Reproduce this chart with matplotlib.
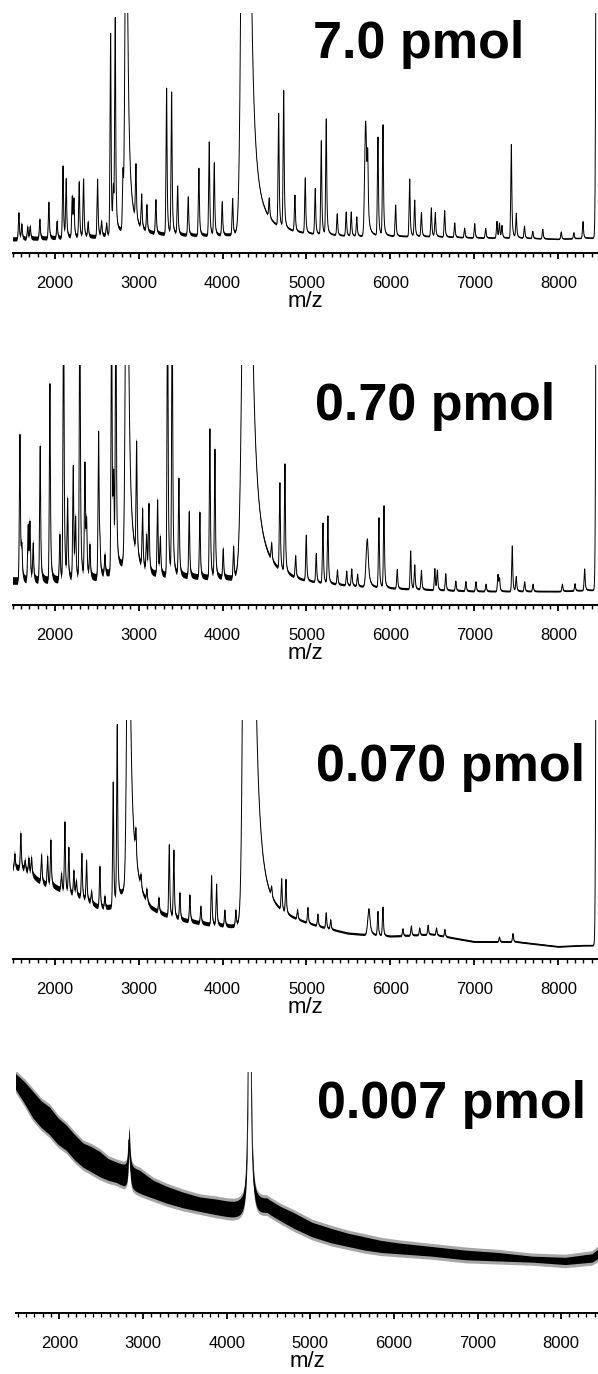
import numpy as np
import matplotlib
matplotlib.use("Agg")
import matplotlib.pyplot as plt
from matplotlib.ticker import MultipleLocator

plt.rcParams['font.family'] = ['Liberation Sans', 'DejaVu Sans']

# ------------------------------------------------------------------
# Spectrum data (intensity in % of the displayed full scale)
# ------------------------------------------------------------------
labels = ["7.0 pmol", "0.70 pmol", "0.070 pmol", "0.007 pmol"]

# ---- 7.0 pmol ----
p1_peak_mz = [1575, 1610, 1680, 1710, 1825, 1932, 2030, 2100, 2138, 2210, 2230, 2293,
              2345, 2400, 2512, 2560, 2620, 2667, 2700, 2722, 2814, 2969, 3037, 3100,
              3207, 3334, 3394, 3466, 3592, 3719, 3842, 3902, 3997, 4121, 4557, 4669,
              4729, 4863, 4986, 5105, 5177, 5236, 5367, 5474, 5534, 5600, 5730, 5852,
              5912, 6063, 6230, 6290, 6370, 6488, 6535, 6647, 6767, 6885, 7005, 7136,
              7270, 7300, 7330, 7441, 7500, 7598, 7697, 7816, 8036, 8186, 8295]
p1_peak_h = [11, 6, 5, 5, 8, 15, 7, 30, 24, 17, 15, 23,
             24, 6, 24, 6, 5, 84, 18, 88, 22, 23, 14, 11,
             14, 61, 59, 20, 16, 28, 39, 30, 14, 15, 8, 47,
             57, 15, 23, 19, 39, 48, 9, 10, 10, 8, 25, 41,
             46, 13, 24, 15, 10, 12, 10, 11, 6, 4, 6, 4,
             7, 6, 5, 39, 10, 5, 3, 4, 3, 2.5, 7]
p1_wide_mz = [2852, 4280, 5705, 8470]
p1_wide_h = [150, 600, 48, 740]
p1_wide_wl = [14, 34, 12, 12]
p1_wide_wr = [23, 30, 14, 20]
p1_base_mz = [1450, 2000, 2500, 2700, 2800, 2950, 3100, 3500, 4000, 4150, 4500, 4700,
              5000, 5500, 6000, 6500, 7000, 7500, 8000, 8350, 8520]
p1_base_h = [5.5, 6, 6.5, 7.5, 9, 8.5, 7.5, 7, 7, 7.5, 8, 7.5,
             7, 6.5, 6.5, 6.5, 6, 6, 5.5, 6, 6]
p1_noise_mz = [1450, 3000, 4200, 5000, 8520]
p1_noise = [0.9, 0.8, 0.6, 0.4, 0.3]

# ---- 0.70 pmol ----
p2_peak_mz = [1587, 1610, 1685, 1706, 1745, 1828, 1944, 2063, 2107, 2155, 2222, 2250,
              2301, 2361, 2381, 2421, 2524, 2540, 2600, 2679, 2703, 2730, 2977, 3048,
              3096, 3124, 3227, 3260, 3346, 3401, 3481, 3604, 3731, 3850, 3910, 4009,
              4133, 4586, 4684, 4744, 4872, 4998, 5117, 5197, 5256, 5370, 5480, 5540,
              5610, 5864, 5924, 6082, 6242, 6290, 6370, 6530, 6560, 6660, 6780, 6900,
              7020, 7140, 7282, 7300, 7452, 7500, 7600, 7700, 8050, 8200, 8315]
p2_peak_h = [61, 12, 23, 23, 15, 56, 82, 19, 130, 32, 47, 24,
             125, 47, 21, 13, 60, 10, 8, 120, 35, 120, 47, 24,
             15, 28, 31, 15, 130, 120, 40, 27, 27, 62, 53, 12,
             13, 7, 36, 45, 9, 19, 12, 25, 28, 6, 6, 7,
             5, 29, 34, 8, 16, 10, 8, 9, 8, 7, 4, 4,
             4, 3, 7, 5, 19, 6, 4, 3, 3, 3, 9]
p2_wide_mz = [2860, 4290, 5725, 8470]
p2_wide_h = [180, 300, 20, 740]
p2_wide_wl = [16, 40, 15, 12]
p2_wide_wr = [23, 50, 15, 20]
p2_base_mz = [1450, 2000, 2500, 2650, 2800, 2950, 3100, 3500, 4000, 4150, 4500, 4700,
              5000, 5500, 6000, 6500, 7000, 7500, 8000, 8350, 8520]
p2_base_h = [10, 10, 11, 13, 16, 15, 12, 11.5, 11, 11, 11, 10,
             8.5, 7.5, 6.5, 6, 5.5, 5.5, 5.5, 6, 6]
p2_noise_mz = [1450, 2500, 4200, 5000, 8520]
p2_noise = [1.6, 1.5, 1.1, 0.5, 0.35]

# ---- 0.070 pmol ----
p3_peak_mz = [1527, 1598, 1650, 1694, 1726, 1845, 1917, 1956, 2083, 2123, 2170, 2230,
              2260, 2325, 2381, 2441, 2540, 2600, 2698, 2746, 2969, 3030, 3100, 3243,
              3366, 3421, 3493, 3612, 3743, 3870, 3930, 4029, 4160, 4586, 4705, 4756,
              4895, 5018, 5137, 5236, 5290, 5852, 5912, 6150, 6250, 6350, 6450, 6550,
              6650, 7300, 7461]
p3_peak_h = [6, 14.5, 4, 6, 7, 11.5, 12, 19, 7, 29, 18.7, 10,
             6, 18.5, 16.5, 5, 17, 5, 52, 73, 12, 5, 5, 6,
             30, 28, 11, 11, 7, 20.5, 17, 6.5, 6.5, 4, 13, 14,
             4, 6.5, 5, 6.5, 4, 10, 12, 3, 4, 3, 4, 3,
             3, 2, 3.5]
p3_wide_mz = [2878, 4310, 5745, 8470]
p3_wide_h = [150, 1000, 11, 740]
p3_wide_wl = [17.5, 34, 15, 12]
p3_wide_wr = [27, 29.5, 15, 20]
p3_base_mz = [1450, 1600, 1700, 1800, 1900, 2000, 2100, 2200, 2300, 2400, 2500, 2600,
              2700, 2800, 2850, 2950, 3000, 3050, 3150, 3300, 3500, 3700, 3900, 4100,
              4200, 4500, 4700, 4900, 5200, 5500, 6000, 6500, 7000, 7500, 8000, 8300, 8520]
p3_base_h = [38, 38, 36, 33, 31, 30, 28.5, 27, 26, 24, 22, 21,
             22, 27, 30, 32, 28, 24, 20, 18, 16, 15, 14, 13.5,
             14, 15, 15, 14, 12, 10, 9, 10, 7, 7, 5, 5.5, 5.5]
p3_noise_mz = [1450, 3000, 4200, 5000, 8520]
p3_noise = [1.3, 1.0, 0.8, 0.5, 0.35]

# ---- 0.007 pmol (noise band: upper / lower envelope) ----
p4_band_mz = [1470, 1580, 1680, 1780, 1880, 1980, 2080, 2180, 2280, 2380, 2480, 2580,
              2680, 2780, 2960, 3120, 3280, 3480, 3680, 3880, 4080, 4200, 4480, 4640,
              4800, 5020, 5250, 5450, 5650, 5850, 6050, 6450, 6850, 7250, 7650, 8050,
              8370, 8460]
p4_band_hi = [99.5, 96, 92, 88, 85.5, 81, 78, 74, 70.5, 69, 67, 64,
              62.5, 61, 59, 55, 52.5, 50, 48, 47, 45.5, 45, 47, 44,
              41.5, 37.5, 35, 33, 31.5, 30, 29, 27.5, 26, 25, 23.5, 23,
              24.5, 27]
p4_band_lo = [93, 87, 81, 77, 74, 70, 67.5, 63.5, 60.5, 58.5, 56.5, 55,
              54, 52, 49.5, 47.5, 45.5, 43.5, 42, 40.5, 39, 38.5, 41, 38,
              35, 31.5, 29, 27.5, 26, 25, 24.5, 23.5, 22, 21.5, 21, 20,
              21, 23]
p4_peak_mz = [2832, 4275]
p4_peak_h = [16, 200]
p4_peak_w = [12, 12.2]

# axes frames in pixels: (left, right, top, axis line) and m/z range
frames = [(12.7, 598, 13, 252.7),
          (12.7, 598, 365, 605),
          (12.7, 598, 720, 959),
          (16.0, 598, 1072, 1312.7)]
xranges = [(1500, 8473), (1500, 8473), (1500, 8473), (1480, 8441)]
label_xy = [(313, 58), (315, 420), (316, 781), (317, 1118)]

W, H = 598, 1374
DPI = 100
mz = np.arange(1440.0, 8530.0, 1.0)


def peak(x, c, h, wl, wr):
    d = x - c
    left = h * np.exp(-0.5 * (d / wl) ** 2)
    right = h / (1.0 + (d / wr) ** 2)
    return np.where(d < 0, left, right)


def build(peak_mz, peak_h, wide_mz, wide_h, wide_wl, wide_wr, base_mz, base_h):
    y = np.interp(mz, base_mz, base_h)
    for c, h in zip(peak_mz, peak_h):
        y = y + peak(mz, c, h, 7.0, 6.0)
    for c, h, wl, wr in zip(wide_mz, wide_h, wide_wl, wide_wr):
        y = y + peak(mz, c, h, wl, wr)
    return y


spectra = [
    (build(p1_peak_mz, p1_peak_h, p1_wide_mz, p1_wide_h, p1_wide_wl, p1_wide_wr,
           p1_base_mz, p1_base_h), np.interp(mz, p1_noise_mz, p1_noise)),
    (build(p2_peak_mz, p2_peak_h, p2_wide_mz, p2_wide_h, p2_wide_wl, p2_wide_wr,
           p2_base_mz, p2_base_h), np.interp(mz, p2_noise_mz, p2_noise)),
    (build(p3_peak_mz, p3_peak_h, p3_wide_mz, p3_wide_h, p3_wide_wl, p3_wide_wr,
           p3_base_mz, p3_base_h), np.interp(mz, p3_noise_mz, p3_noise)),
]

fig = plt.figure(figsize=(W / DPI, H / DPI), dpi=DPI)

for i in range(4):
    l, r, t, b = frames[i]
    ax = fig.add_axes([l / W, 1 - b / H, (r - l) / W, (b - t) / H])
    ax.set_xlim(*xranges[i])
    ax.set_ylim(0, 100)

    if i < 3:
        y, n = spectra[i]
        ax.fill_between(mz, y - n, y + n, color="black", lw=0)
        ax.plot(mz, y, color="black", lw=0.7)
    else:
        extra = np.zeros_like(mz)
        for c, h, w in zip(p4_peak_mz, p4_peak_h, p4_peak_w):
            extra = extra + h / (1.0 + ((mz - c) / w) ** 2)
        hi = np.interp(mz, p4_band_mz, p4_band_hi) + extra
        lo = np.interp(mz, p4_band_mz, p4_band_lo) + extra
        # ragged outer fringe of the noise, then the dense core
        ax.fill_between(mz, lo - 1.3, hi + 1.3, color="black", alpha=0.35, lw=0)
        ax.fill_between(mz, lo, hi, color="black", lw=0)
        ax.plot(mz, (hi + lo) / 2, color="black", lw=0.6)

    for s in ("top", "right", "left"):
        ax.spines[s].set_visible(False)
    ax.spines["bottom"].set_linewidth(1.4)
    ax.set_yticks([])
    ax.xaxis.set_major_locator(MultipleLocator(1000))
    ax.xaxis.set_minor_locator(MultipleLocator(100))
    ax.tick_params(axis="x", which="major", direction="out", length=4.5, width=1.3,
                   labelsize=12, pad=12)
    ax.tick_params(axis="x", which="minor", direction="out", length=2.6, width=1.0)
    ax.set_xlabel("m/z", fontsize=16, labelpad=0)
    ax.patch.set_alpha(0)

    tx, ty = label_xy[i]
    fig.text(tx / W, 1 - ty / H, labels[i], fontsize=37.5, fontweight="bold",
             ha="left", va="baseline")

fig.savefig("out.png", dpi=DPI)
